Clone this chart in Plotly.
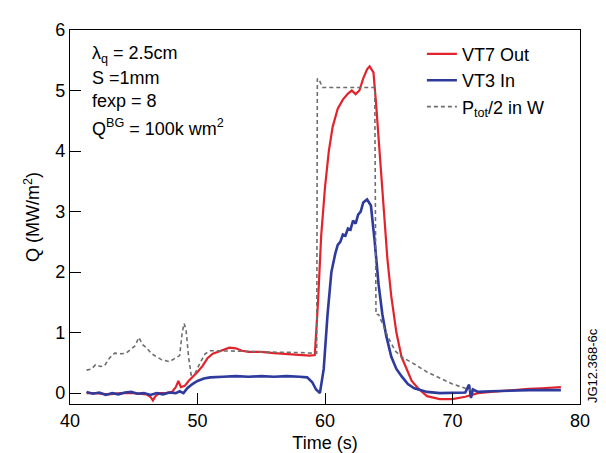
import plotly.graph_objects as go

# VT7 Out (red)
t_red = [41.3, 42, 43, 44, 45, 46, 46.3, 46.5, 46.7, 47, 47.5, 48, 48.3, 48.5, 48.7, 49, 49.3, 49.7,
         50, 50.4, 50.8, 51.2, 51.8, 52.5, 53, 53.5, 54, 55, 56, 57, 58, 58.8, 59.2, 59.45, 59.7,
         60.0, 60.3, 60.6, 61.0, 61.4, 61.8, 62.1, 62.4, 62.7, 63.0, 63.3, 63.5, 63.8, 64.0, 64.3,
         64.6, 64.9, 65.2, 65.6, 66.0, 66.4, 66.8, 67.3, 68, 69, 70, 71, 72, 73, 74, 75, 76, 77, 78.5]
q_red = [0.0, 0.0, -0.02, 0.0, 0.0, -0.02, -0.06, -0.12, -0.05, 0.0, 0.0, 0.02, 0.1, 0.2, 0.1, 0.12, 0.2, 0.28,
         0.35, 0.45, 0.58, 0.65, 0.7, 0.75, 0.74, 0.7, 0.68, 0.68, 0.66, 0.65, 0.63, 0.62, 0.63, 1.5, 2.6,
         3.4, 4.0, 4.4, 4.7, 4.85, 4.95, 5.0, 4.94, 5.0, 5.2, 5.35, 5.4, 5.3, 4.8, 3.9,
         3.0, 2.2, 1.6, 1.0, 0.6, 0.4, 0.2, 0.08, -0.05, -0.1, -0.1, -0.06, 0.0, 0.02, 0.04, 0.05, 0.07, 0.08, 0.1]

# VT3 In (blue)
t_blue = [41.3, 41.8, 42.3, 42.8, 43.3, 43.8, 44.3, 44.8, 45.3, 45.8, 46.3, 46.8, 47.3, 47.8, 48.3, 48.6,
          48.9, 49.2, 49.6, 50.0, 50.5, 51, 52, 53, 54, 55, 56, 57, 58, 58.6, 59.0, 59.3, 59.6, 59.9,
          60.2, 60.5, 60.8, 61.0, 61.2, 61.4, 61.6, 61.8, 62.0, 62.2, 62.4, 62.6, 62.8, 63.0, 63.3,
          63.6, 63.9, 64.2, 64.5, 64.8, 65.2, 65.6, 66, 66.5, 67, 68, 69, 70, 71, 71.3, 71.45, 71.6,
          72, 73, 74, 75, 76, 77, 78.5]
q_blue = [0.02, -0.01, 0.01, -0.03, 0.0, -0.02, 0.01, 0.02, -0.01, 0.0, -0.03, 0.0, -0.02, 0.01, 0.0, 0.03,
          0.0, 0.08, 0.15, 0.2, 0.24, 0.26, 0.27, 0.28, 0.27, 0.28, 0.27, 0.28, 0.27, 0.26, 0.18, 0.06, 0.0, 0.4,
          1.3, 2.0, 2.3, 2.45, 2.5, 2.62, 2.6, 2.72, 2.7, 2.85, 2.8, 2.95, 3.0, 3.15, 3.2,
          3.1, 2.5, 1.8, 1.3, 0.95, 0.6, 0.4, 0.28, 0.15, 0.08, 0.02, 0.0, 0.0, 0.01, 0.14, -0.08, 0.06,
          0.02, 0.03, 0.04, 0.04, 0.05, 0.05, 0.05]

# P_tot / 2 (dashed)
t_p = [41.3, 41.7, 42.0, 42.4, 42.7, 43.1, 43.5, 44, 44.4, 44.8, 45.1, 45.4, 45.7, 46.0, 46.4, 46.8, 47.2,
       47.8, 48.3, 48.6, 48.8, 48.95, 49.1, 49.3, 49.5, 49.8, 50.2, 50.6, 51, 52, 53, 54, 55, 56, 57, 58,
       59, 59.35, 59.4, 59.6, 59.8, 61, 62, 63, 63.9, 64.0, 64.2, 64.5, 65, 65.5, 66, 67, 68, 69, 70, 71, 71.5]
q_p = [0.38, 0.4, 0.47, 0.44, 0.45, 0.58, 0.66, 0.65, 0.66, 0.72, 0.78, 0.92, 0.8, 0.75, 0.65, 0.6, 0.55,
       0.52, 0.58, 0.62, 1.0, 1.15, 1.05, 0.6, 0.3, 0.32, 0.5, 0.65, 0.7, 0.7, 0.7, 0.69, 0.68, 0.68, 0.67, 0.67,
       0.66, 0.66, 5.2, 5.15, 5.05, 5.05, 5.04, 5.05, 5.05, 1.3, 1.3, 1.15, 0.9, 0.7, 0.6, 0.48, 0.35, 0.25, 0.15, 0.08, 0.05]

x_ticks = [40, 50, 60, 70, 80]
y_ticks = [0, 1, 2, 3, 4, 5, 6]

FONT = "Liberation Sans, Arial, Helvetica, sans-serif"

fig = go.Figure()
fig.add_trace(go.Scatter(x=t_red, y=q_red, mode="lines", name="VT7 Out",
                         line=dict(color="#e3232b", width=2.2)))
fig.add_trace(go.Scatter(x=t_blue, y=q_blue, mode="lines", name="VT3 In",
                         line=dict(color="#2e3a9c", width=2.6)))
fig.add_trace(go.Scatter(x=t_p, y=q_p, mode="lines", name="P<sub>tot</sub>/2 in W",
                         line=dict(color="#6e6e6e", width=1.6, dash="4px,3px")))

ann_lines = ["λ<sub>q</sub> = 2.5cm", "S =1mm", "fexp = 8", "Q<sup>BG</sup> = 100k wm<sup>2</sup>"]
ann_y = [0.935, 0.872, 0.81, 0.74]
annotations = []
for txt, yy in zip(ann_lines, ann_y):
    annotations.append(dict(text=txt, x=0.04, y=yy, xref="paper", yref="paper",
                            xanchor="left", yanchor="middle", showarrow=False,
                            font=dict(size=18, color="black", family=FONT)))
annotations.append(dict(text="JG12.368-6c", x=1.008, y=0.0, xref="paper", yref="paper",
                        xanchor="left", yanchor="bottom", showarrow=False, textangle=-90,
                        borderpad=0,
                        font=dict(size=13, color="black", family=FONT)))

fig.update_layout(
    width=606, height=453,
    margin=dict(l=62, r=34, t=19, b=53),
    paper_bgcolor="white", plot_bgcolor="white",
    font=dict(family=FONT, size=18, color="black"),
    showlegend=True,
    legend=dict(x=0.69, y=0.985, xanchor="left", yanchor="top", bgcolor="rgba(0,0,0,0)",
                font=dict(size=18), tracegroupgap=0, itemwidth=30),
    annotations=annotations,
    xaxis=dict(range=[40, 80], tickvals=x_ticks, ticks="inside", ticklen=11, tickcolor="black",
               showline=True, linecolor="black", linewidth=1.2, mirror=True, showgrid=False,
               zeroline=False, title=dict(text="Time (s)", standoff=6, font=dict(size=18)),
               tickfont=dict(size=18)),
    yaxis=dict(range=[-0.18, 6], tickvals=y_ticks, ticks="inside", ticklen=11, tickcolor="black",
               showline=True, linecolor="black", linewidth=1.2, mirror=True, showgrid=False,
               zeroline=False, title=dict(text="Q (MW/m<sup>2</sup>)", standoff=10, font=dict(size=18)),
               tickfont=dict(size=18)),
)

fig.write_html("out.html")
